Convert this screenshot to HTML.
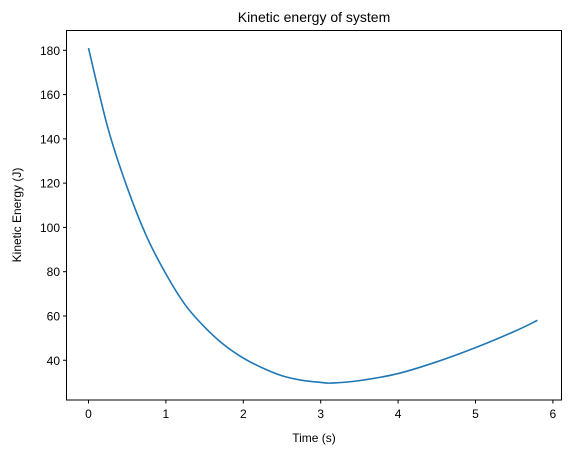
<!DOCTYPE html>
<html><head><meta charset="utf-8"><style>
body{margin:0;background:#fff}
svg{display:block;font-family:"Liberation Sans","DejaVu Sans",sans-serif}
</style></head><body>
<svg id="chart" width="575" height="453">
<rect x="0" y="0" width="575" height="453" fill="#fff"/>
<text x="314" y="22" font-size="14" text-anchor="middle">Kinetic energy of system</text>
<text x="314" y="442" font-size="12" text-anchor="middle">Time (s)</text>
<text transform="translate(21,215) rotate(-90)" font-size="12" text-anchor="middle">Kinetic Energy (J)</text>
<g id="ticks"></g>
<path id="line" fill="none" stroke="#1f77b4" stroke-width="1.6"/>
<rect x="66.5" y="30.5" width="495" height="369.5" fill="none" stroke="#000" stroke-width="1"/>
</svg>
<script>
const times=[0,0.25,0.5,0.75,1,1.25,1.5,1.75,2,2.25,2.5,2.75,3,3.15,3.5,4,4.5,5,5.5,5.8];
const energy=[181,145,118,96,79,65,55,47,41,36.5,33,31,30,29.7,30.8,34,39.3,45.7,53,58];
const xTicks=[0,1,2,3,4,5,6];
const yTicks=[40,60,80,100,120,140,160,180];
const xs=t=>88.5+t*77.4;
const ys=v=>50.3+(180-v)*2.214;
const NS="http://www.w3.org/2000/svg";
const g=document.getElementById('ticks');
function mk(tag,attrs){const e=document.createElementNS(NS,tag);for(const k in attrs)e.setAttribute(k,attrs[k]);return e;}
xTicks.forEach(t=>{
 const l=mk('line',{x1:xs(t),x2:xs(t),y1:400,y2:403.5,stroke:'#000'});
 
 
 g.appendChild(l);
 const tx=mk('text',{x:xs(t),y:418,'font-size':12,'text-anchor':'middle'});
 tx.textContent=t;
 
 
 g.appendChild(tx);
});
yTicks.forEach(v=>{
 const l=mk('line',{x1:63,x2:66.5,y1:ys(v),y2:ys(v),stroke:'#000'});
 
 
 g.appendChild(l);
 const tx=mk('text',{x:60,y:ys(v)+4.5,'font-size':12,'text-anchor':'end'});
 tx.textContent=v;
 
 
 g.appendChild(tx);
});
// Catmull-Rom smoothing through data points
const P=times.map((t,i)=>[xs(t),ys(energy[i])]);
let d='M'+P[0][0]+','+P[0][1];
for(let i=0;i<P.length-1;i++){
 const p0=P[i-1]||P[i],p1=P[i],p2=P[i+1],p3=P[i+2]||P[i+1];
 const c1=[p1[0]+(p2[0]-p0[0])/6,p1[1]+(p2[1]-p0[1])/6];
 const c2=[p2[0]-(p3[0]-p1[0])/6,p2[1]-(p3[1]-p1[1])/6];
 d+=' C'+c1+' '+c2+' '+p2;
}
document.getElementById('line').setAttribute('d',d);
</script>
</body></html>
